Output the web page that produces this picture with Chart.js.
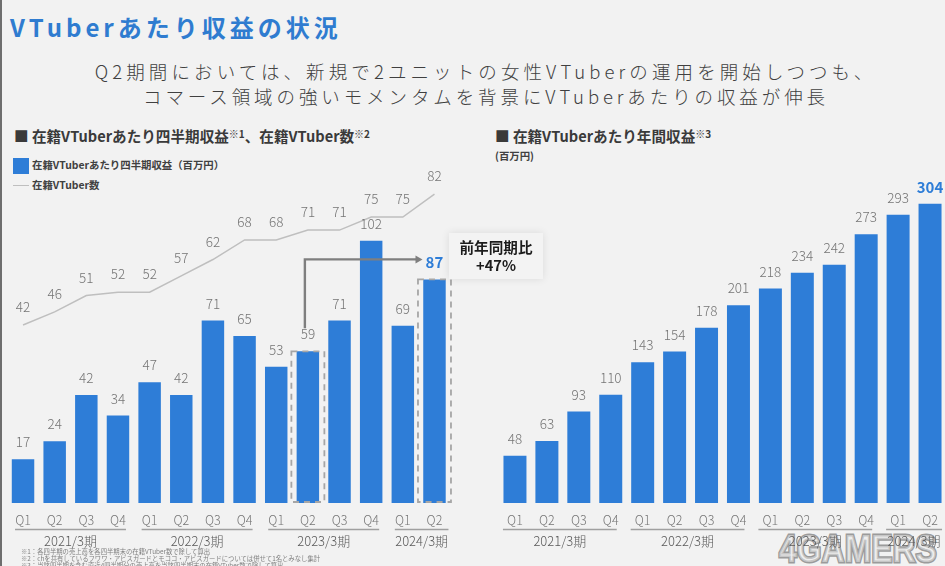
<!DOCTYPE html>
<html lang="ja">
<head>
<meta charset="utf-8">
<script src="https://cdn.jsdelivr.net/npm/chart.js@4"></script>
<style>
  html, body { margin: 0; padding: 0; background: #f2f2f2; }
  body { width: 945px; height: 566px; position: relative; overflow: hidden; font-family: "Noto Sans CJK JP", sans-serif; }
  .abs { position: absolute; white-space: nowrap; line-height: 1; }
  canvas { position: absolute; }
  #edge { left: 0; top: 0; width: 1.5px; height: 566px; background: #6e6e6e; }
  #title { left: 10px; top: 15px; font-size: 24px; font-weight: 700; color: #2f7cd0; letter-spacing: 4px; }
  .lead { text-align: center; font-size: 18.5px; font-weight: 300; color: #404040; }
  .head { font-size: 14.6px; font-weight: 700; color: #3a3a3a; }
  .head sup { font-size: 10px; line-height: 0; vertical-align: 4px; }
  .small { font-size: 10.4px; font-weight: 700; color: #404040; }
  #swatch { left: 13px; top: 158px; width: 16px; height: 16px; background: #2e7dd7; }
  #dash { left: 13px; top: 185px; width: 16px; height: 1px; background: #bfbfbf; }
  #callout { left: 449px; top: 233px; width: 94px; height: 46px; background: #f3f3f3; box-shadow: 0 0 8px rgba(0,0,0,0.10);
    text-align: center; font-size: 14.6px; font-weight: 700; color: #1c1c1c; line-height: 18px; padding-top: 5px; box-sizing: border-box; z-index: 3; }
  .note { left: 21px; font-size: 6.35px; color: #7f7f7f; }
  #mark { left: 779px; top: 530px; font-family: "Liberation Sans", sans-serif; font-size: 38px; font-weight: 700;
    color: rgba(236,236,236,0.55); -webkit-text-stroke: 3px rgba(140,140,140,0.85); paint-order: stroke fill;
    transform: scaleX(0.84); transform-origin: left top; }
</style>
</head>
<body>
<div class="abs" id="edge"></div>
<div class="abs" id="mark">4GAMERS</div>
<div class="abs" id="title">VTuberあたり収益の状況</div>
<div class="abs lead" style="left:0;width:971px;top:62px;letter-spacing:4.1px">Q2期間においては、新規で2ユニットの女性VTuberの運用を開始しつつも、</div>
<div class="abs lead" style="left:0;width:972px;top:87px;letter-spacing:3.9px">コマース領域の強いモメンタムを背景にVTuberあたりの収益が伸長</div>
<div class="abs head" style="left:14px;top:129px">■ 在籍VTuberあたり四半期収益<sup>※1</sup>、在籍VTuber数<sup>※2</sup></div>
<div class="abs head" style="left:495px;top:129px">■ 在籍VTuberあたり年間収益<sup>※3</sup></div>
<div class="abs small" style="left:495px;top:151px">(百万円)</div>
<div class="abs" id="swatch"></div>
<div class="abs small" style="left:32px;top:160px">在籍VTuberあたり四半期収益（百万円）</div>
<div class="abs" id="dash"></div>
<div class="abs small" style="left:32px;top:180px">在籍VTuber数</div>

<canvas id="quarterChart"></canvas>
<canvas id="annualChart"></canvas>

<div class="abs" id="callout">前年同期比<br>+47%</div>
<div class="abs note" style="top:549px">※1：各四半期の売上高を各四半期末の在籍VTuber数で除して算出</div>
<div class="abs note" style="top:556px">※2：chを共有しているフワワ・アビスガードとモココ・アビスガードについては併せて1名とみなし集計</div>
<div class="abs note" style="top:563px">※3：当該四半期を含む直近4四半期分の売上高を当該四半期末の在籍VTuber数で除して算出</div>

<script>
const quarters = ["Q1", "Q2", "Q3", "Q4", "Q1", "Q2", "Q3", "Q4", "Q1", "Q2", "Q3", "Q4", "Q1", "Q2"];
const fiscalYears = ["2021/3期", "2022/3期", "2023/3期", "2024/3期"];
const fiscalQuarterCounts = [4, 4, 4, 2];
const quarterRevenue = [17, 24, 42, 34, 47, 42, 71, 65, 53, 59, 71, 102, 69, 87];
const vtuberCount = [42, 46, 51, 52, 52, 57, 62, 68, 68, 71, 71, 75, 75, 82];
const annualRevenue = [48, 63, 93, 110, 143, 154, 178, 201, 218, 234, 242, 273, 293, 304];

const BLUE = "#2e7dd7";
const LABEL_GRAY = "#757575";
const LABEL_FONT = '"Noto Sans CJK JP", sans-serif';

// numbers above bars and line points, read from the chart's own elements
const valueLabels = {
  id: "valueLabels",
  afterDatasetsDraw(chart) {
    const ctx = chart.ctx;
    ctx.save();
    ctx.textAlign = "center";
    ctx.textBaseline = "middle";
    chart.data.datasets.forEach((ds, i) => {
      const meta = chart.getDatasetMeta(i);
      const last = ds.data.length - 1;
      meta.data.forEach((el, j) => {
        const hot = ds.type === "bar" && j === last;
        ctx.fillStyle = hot ? BLUE : LABEL_GRAY;
        ctx.font = (hot ? "700 15px " : "300 13.5px ") + LABEL_FONT;
        ctx.fillText(ds.data[j], el.x, el.y - (ds.type === "line" ? 18 : 17));
      });
    });
    ctx.restore();
  },
};

// fiscal year rule and label under the quarter ticks
const fiscalGroups = {
  id: "fiscalGroups",
  afterDraw(chart, args, opts) {
    const ctx = chart.ctx;
    const x = chart.scales.x;
    const yLine = chart.chartArea.bottom + 26.5;
    let start = 0;
    ctx.save();
    fiscalQuarterCounts.forEach((count, i) => {
      const isLast = i === fiscalQuarterCounts.length - 1;
      const x0 = x.getPixelForValue(start) - opts.inL;
      const x1 = x.getPixelForValue(start + count - 1) + (isLast ? opts.inLast : opts.inR);
      ctx.strokeStyle = "#a0a0a0";
      ctx.lineWidth = 1.5;
      ctx.beginPath();
      ctx.moveTo(x0, yLine);
      ctx.lineTo(x1, yLine);
      ctx.stroke();
      ctx.fillStyle = "#595959";
      ctx.font = "300 13px " + LABEL_FONT;
      ctx.textAlign = "center";
      ctx.textBaseline = "middle";
      ctx.fillText(fiscalYears[i], (x0 + x1) / 2, yLine + 11.5);
      start += count;
    });
    ctx.restore();
  },
};

// dashed boxes and the year on year arrow, left chart only
const compareMarks = {
  id: "compareMarks",
  afterDraw(chart) {
    const ctx = chart.ctx;
    const x = chart.scales.x;
    const y = chart.scales.y;
    const from = 9;
    const to = 13;
    ctx.save();
    ctx.strokeStyle = "#a6a6a6";
    ctx.lineWidth = 1.8;
    ctx.setLineDash([6, 5]);
    [from, to].forEach((i) => {
      const cx = x.getPixelForValue(i);
      ctx.strokeRect(cx - 16.5, y.getPixelForValue(quarterRevenue[i]), 33, y.getPixelForValue(0) - y.getPixelForValue(quarterRevenue[i]) - 1);
    });
    ctx.setLineDash([]);
    const ax = x.getPixelForValue(from) - 3;
    const ay = y.getPixelForValue(quarterRevenue[to]) - 20;
    const bx = x.getPixelForValue(to) - 12;
    ctx.strokeStyle = "#7f7f7f";
    ctx.fillStyle = "#7f7f7f";
    ctx.lineWidth = 2.4;
    ctx.beginPath();
    ctx.moveTo(ax, y.getPixelForValue(quarterRevenue[from]) - 23);
    ctx.lineTo(ax, ay);
    ctx.lineTo(bx - 5, ay);
    ctx.stroke();
    ctx.beginPath();
    ctx.moveTo(bx, ay);
    ctx.lineTo(bx - 7, ay - 4);
    ctx.lineTo(bx - 7, ay + 4);
    ctx.closePath();
    ctx.fill();
    ctx.restore();
  },
};

const baseOptions = function (padding, yMax) {
  return {
    responsive: false,
    animation: false,
    layout: { padding: padding },
    plugins: { legend: { display: false }, tooltip: { enabled: false } },
    scales: {
      x: {
        grid: { display: false, drawTicks: false },
        border: { display: false },
        ticks: { color: LABEL_GRAY, padding: 10, maxRotation: 0, autoSkip: false, font: { family: LABEL_FONT, size: 12.5, weight: "300" } },
        afterFit(scale) { scale.height = 57; },
      },
      y: { display: false, min: 0, max: yMax },
    },
  };
};

const sizeCanvas = function (id, left, top, width, height) {
  const el = document.getElementById(id);
  el.width = width;
  el.height = height;
  el.style.left = left + "px";
  el.style.top = top + "px";
  el.style.width = width + "px";
  el.style.height = height + "px";
  return el;
};

const quarterOptions = baseOptions({ left: 7.2, right: 19.7, top: 13, bottom: 0 }, 132.3);
quarterOptions.scales.y1 = { display: false, min: -12.4, max: 91.5 };
quarterOptions.plugins.fiscalGroups = { inL: 8, inR: 8, inLast: 14 };

new Chart(sizeCanvas("quarterChart", 0, 150, 470, 410), {
  type: "bar",
  data: {
    labels: quarters,
    datasets: [
      {
        type: "line",
        data: vtuberCount,
        yAxisID: "y1",
        borderColor: "#bfbfbf",
        borderWidth: 1.5,
        pointRadius: 0,
        tension: 0,
      },
      {
        type: "bar",
        data: quarterRevenue,
        yAxisID: "y",
        backgroundColor: BLUE,
        categoryPercentage: 1,
        barPercentage: 0.71,
      },
    ],
  },
  options: quarterOptions,
  plugins: [valueLabels, fiscalGroups, compareMarks],
});

const annualOptions = baseOptions({ left: 19, right: 4, top: 13, bottom: 0 }, 340 / 0.984);
annualOptions.plugins.fiscalGroups = { inL: 12, inR: 6, inLast: 12 };

new Chart(sizeCanvas("annualChart", 480, 150, 470, 410), {
  type: "bar",
  data: {
    labels: quarters,
    datasets: [
      {
        type: "bar",
        data: annualRevenue,
        backgroundColor: BLUE,
        categoryPercentage: 1,
        barPercentage: 0.72,
      },
    ],
  },
  options: annualOptions,
  plugins: [valueLabels, fiscalGroups],
});
</script>
</body>
</html>
